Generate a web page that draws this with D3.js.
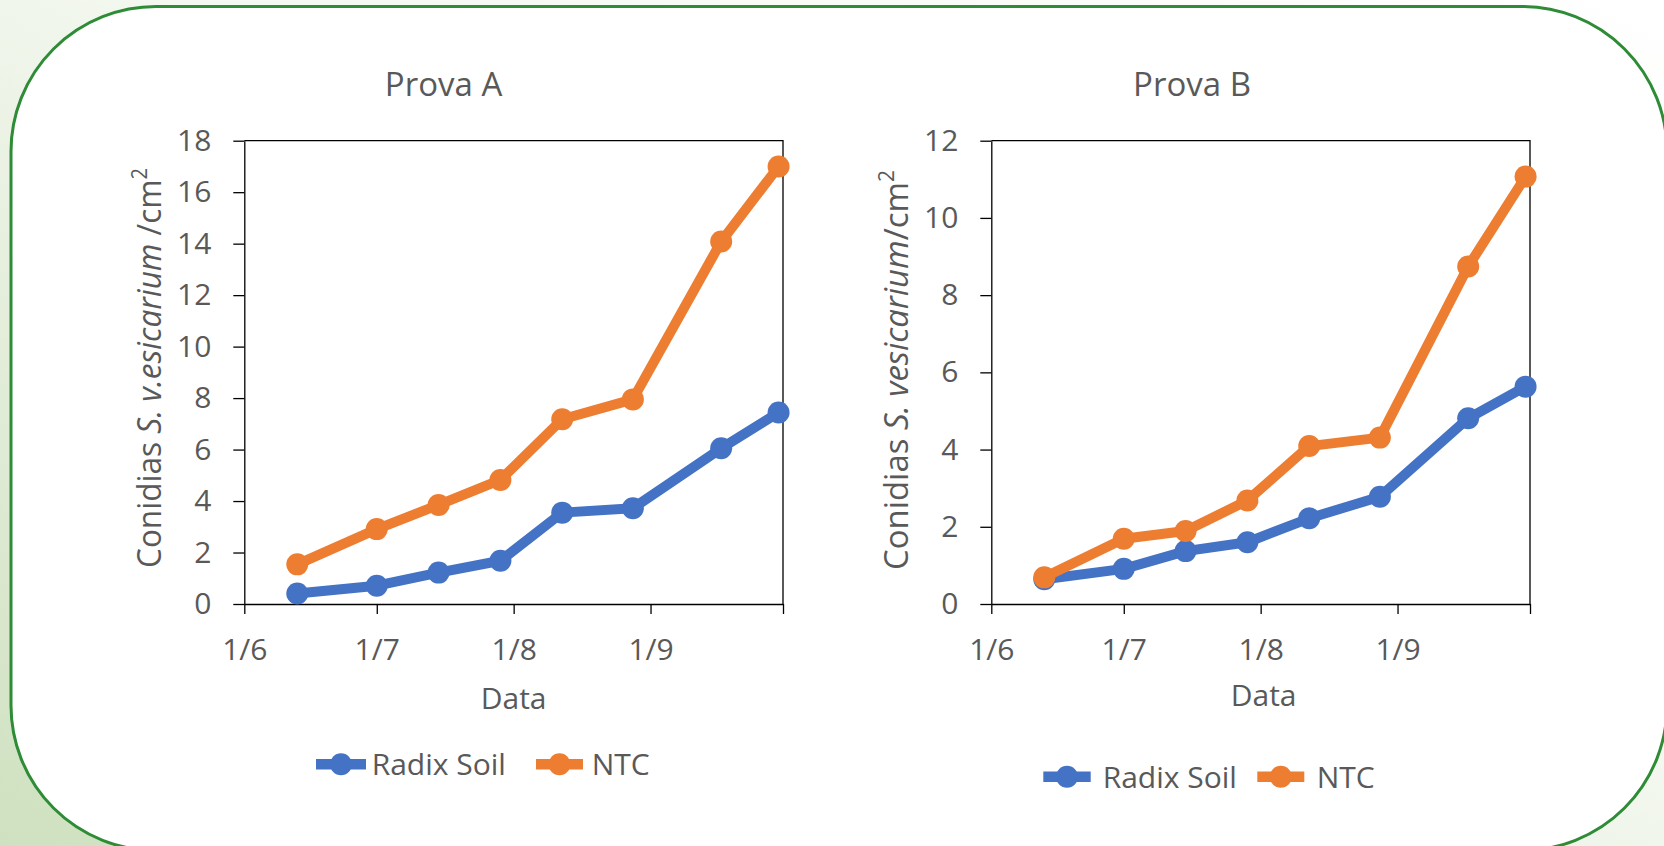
<!DOCTYPE html>
<html>
<head>
<meta charset="utf-8">
<script src="https://cdn.jsdelivr.net/npm/d3@7"></script>
<style>
  html, body { margin: 0; padding: 0; background: #fff; overflow: hidden; }
  text { font-family: "Open Sans", "Noto Sans", sans-serif; fill: #595959; }
</style>
</head>
<body>
<svg id="chart" width="1664" height="846"></svg>
<script>
// Sampling dates (same for both trials)
const sampleDates = ["2020-06-13", "2020-07-01", "2020-07-15", "2020-07-29",
                     "2020-08-12", "2020-08-28", "2020-09-17", "2020-09-30"];
// Month ticks on the date axis and their labels
const monthTicks = ["2020-06-01", "2020-07-01", "2020-08-01", "2020-09-01", "2020-10-01"];
const monthLabels = ["1/6", "1/7", "1/8", "1/9", ""];

const seriesNames = ["Radix Soil", "NTC"];
const seriesColors = ["#4472C4", "#ED7D31"];

// Prova A – conidia per cm²
const radixSoilA = [0.41, 0.71, 1.22, 1.68, 3.55, 3.72, 6.05, 7.44];
const ntcA       = [1.54, 2.91, 3.85, 4.82, 7.18, 7.95, 14.08, 17.0];
// Prova B – conidia per cm²
const radixSoilB = [0.64, 0.91, 1.37, 1.60, 2.22, 2.78, 4.81, 5.63];
const ntcB       = [0.69, 1.69, 1.89, 2.68, 4.09, 4.31, 8.74, 11.07];

const yTicksA = [0, 2, 4, 6, 8, 10, 12, 14, 16, 18];
const yTicksB = [0, 2, 4, 6, 8, 10, 12];

const panelTitles = ["Prova A", "Prova B"];
const xAxisTitle = "Data";

const parseDate = d3.timeParse("%Y-%m-%d");
const dates = sampleDates.map(parseDate);
const tickDates = monthTicks.map(parseDate);

const svg = d3.select("#chart");

// ---- page backdrop: soft green wash behind a rounded white card ----
const defs = svg.append("defs");
const grad = defs.append("linearGradient")
  .attr("id", "wash").attr("x1", "1").attr("y1", "0").attr("x2", "0").attr("y2", "1");
grad.append("stop").attr("offset", "0").attr("stop-color", "#ffffff");
grad.append("stop").attr("offset", "0.45").attr("stop-color", "#f4f8f0");
grad.append("stop").attr("offset", "1").attr("stop-color", "#cfe1c0");
svg.append("rect").attr("width", 1664).attr("height", 846).attr("fill", "url(#wash)");

svg.append("rect")
  .attr("x", 11).attr("y", 6.5)
  .attr("width", 1656).attr("height", 844)
  .attr("rx", 145).attr("ry", 145)
  .attr("fill", "#ffffff")
  .attr("stroke", "#2E8B36").attr("stroke-width", 3);

// ---- one line-chart panel ----
function drawPanel(cfg) {
  const x = d3.scaleTime().domain([tickDates[0], tickDates[tickDates.length - 1]])
    .range([cfg.left, cfg.right]);
  const y = d3.scaleLinear().domain([0, cfg.yTicks[cfg.yTicks.length - 1]])
    .range([cfg.bottom, cfg.top]);

  const g = svg.append("g");

  // plot frame (top and right edges)
  g.append("path")
    .attr("d", `M${cfg.left},${cfg.top}H${cfg.right}V${cfg.bottom}`)
    .attr("fill", "none").attr("stroke", "#000").attr("stroke-width", 1.3);

  const yAxis = g.append("g")
    .attr("transform", `translate(${cfg.left},0)`)
    .call(d3.axisLeft(y).tickValues(cfg.yTicks).tickSize(11).tickSizeOuter(0).tickPadding(22));
  const xAxis = g.append("g")
    .attr("transform", `translate(0,${cfg.bottom})`)
    .call(d3.axisBottom(x).tickValues(tickDates).tickSize(10).tickSizeOuter(0).tickPadding(25)
      .tickFormat((d, i) => monthLabels[i]));

  [yAxis, xAxis].forEach(a => {
    a.selectAll("path, line").attr("stroke", "#000").attr("stroke-width", 1.3);
    a.selectAll("text").style("font-size", "30px").attr("fill", "#595959");
  });

  // series lines and markers
  cfg.series.forEach((vals, si) => {
    const pts = vals.map((v, i) => [x(dates[i]), y(v)]);
    g.append("path")
      .attr("d", d3.line()(pts))
      .attr("fill", "none")
      .attr("stroke", seriesColors[si])
      .attr("stroke-width", 10)
      .attr("stroke-linejoin", "round")
      .attr("stroke-linecap", "round");
    g.selectAll(null).data(pts).enter().append("circle")
      .attr("cx", d => d[0]).attr("cy", d => d[1]).attr("r", 11)
      .attr("fill", seriesColors[si]);
  });

  // title
  g.append("text")
    .attr("x", cfg.titleX).attr("y", cfg.titleY)
    .attr("text-anchor", "middle")
    .style("font-size", "33px")
    .text(cfg.title);

  // y axis title with italic species name and superscript
  const yl = g.append("text")
    .attr("transform", `translate(${cfg.yLabelX},${cfg.yLabelY}) rotate(-90)`)
    .attr("text-anchor", "middle")
    .attr("textLength", 400)
    .attr("lengthAdjust", "spacingAndGlyphs")
    .style("font-size", "33px");
  yl.append("tspan").text("Conidias ");
  yl.append("tspan").style("font-style", "italic").text(cfg.species);
  yl.append("tspan").text(cfg.unitPrefix + "cm");
  yl.append("tspan").attr("baseline-shift", "super").style("font-size", "21px").text("2");

  // x axis title
  g.append("text")
    .attr("x", (cfg.left + cfg.right) / 2 + cfg.xTitleDx).attr("y", cfg.xTitleY)
    .attr("text-anchor", "middle")
    .style("font-size", "30px")
    .text(xAxisTitle);

  // legend
  cfg.legend.forEach((item, si) => {
    const lg = g.append("g");
    lg.append("line")
      .attr("x1", item.x0).attr("x2", item.x1)
      .attr("y1", cfg.legendY).attr("y2", cfg.legendY)
      .attr("stroke", seriesColors[si]).attr("stroke-width", 10.5);
    lg.append("circle")
      .attr("cx", (item.x0 + item.x1) / 2).attr("cy", cfg.legendY).attr("r", 11)
      .attr("fill", seriesColors[si]);
    lg.append("text")
      .attr("x", item.tx).attr("y", cfg.legendY + 11)
      .style("font-size", "30px")
      .text(seriesNames[si]);
  });
}

drawPanel({
  left: 244.3, right: 783, top: 140.7, bottom: 604,
  yTicks: yTicksA,
  series: [radixSoilA, ntcA],
  title: panelTitles[0], titleX: 443.6, titleY: 96,
  species: "S. v.esicarium", unitPrefix: " /",
  yLabelX: 161, yLabelY: 368,
  xTitleDx: 0, xTitleY: 709,
  legendY: 764.3,
  legend: [{ x0: 316, x1: 366, tx: 371.7 }, { x0: 536, x1: 583, tx: 591.7 }]
});

drawPanel({
  left: 991.3, right: 1530, top: 140.7, bottom: 604,
  yTicks: yTicksB,
  series: [radixSoilB, ntcB],
  title: panelTitles[1], titleX: 1192, titleY: 96,
  species: "S. vesicarium", unitPrefix: "/",
  yLabelX: 908, yLabelY: 370,
  xTitleDx: 3, xTitleY: 706,
  legendY: 776.7,
  legend: [{ x0: 1043.3, x1: 1090.7, tx: 1102.7 }, { x0: 1257.3, x1: 1304.3, tx: 1316.7 }]
});
</script>
</body>
</html>
